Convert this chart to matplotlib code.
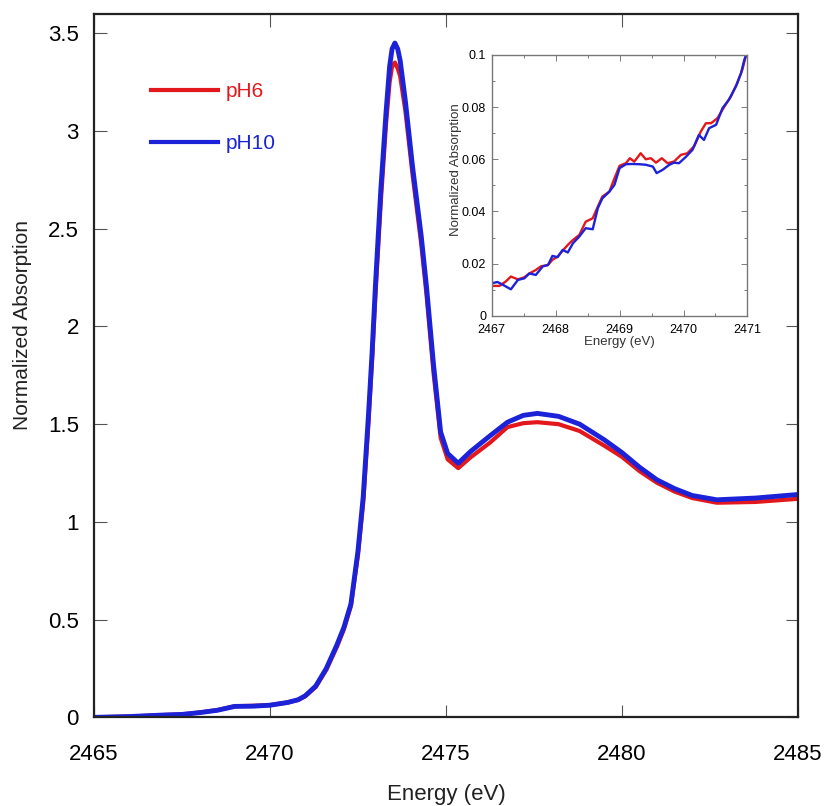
import matplotlib.pyplot as plt
from matplotlib.ticker import FormatStrFormatter, MultipleLocator
from matplotlib.lines import Line2D

plt.rcParams['font.family'] = ['Liberation Sans', 'DejaVu Sans']

RED = '#e3181c'
BLUE = '#1c22d8'

# S K-edge XANES, full range
energy_ph10 = [2465.0, 2466.0, 2467.0, 2467.5, 2468.0, 2468.5, 2469.0, 2469.5, 2470.0,
               2470.5, 2470.8, 2471.0, 2471.3, 2471.6, 2471.9, 2472.1, 2472.3, 2472.5,
               2472.65, 2472.8, 2472.9, 2473.0, 2473.15, 2473.3, 2473.4, 2473.47, 2473.55,
               2473.63, 2473.7, 2473.85, 2474.05, 2474.3, 2474.45, 2474.65, 2474.85,
               2475.05, 2475.35, 2475.7, 2476.25, 2476.75, 2477.2, 2477.6, 2478.2, 2478.8,
               2479.5, 2480.0, 2480.5, 2481.0, 2481.5, 2482.0, 2482.7, 2483.8, 2485.0]
abs_ph10 = [0.000, 0.004, 0.012, 0.015, 0.024, 0.036, 0.056, 0.057, 0.062,
            0.076, 0.090, 0.110, 0.160, 0.250, 0.370, 0.460, 0.580, 0.850,
            1.130, 1.550, 1.860, 2.220, 2.700, 3.100, 3.330, 3.420, 3.450,
            3.420, 3.360, 3.150, 2.820, 2.460, 2.200, 1.800, 1.460,
            1.350, 1.300, 1.360, 1.440, 1.510, 1.545, 1.555, 1.540, 1.500,
            1.420, 1.355, 1.280, 1.215, 1.170, 1.135, 1.113, 1.122, 1.140]

energy_ph6 = energy_ph10
abs_ph6 = [0.000, 0.004, 0.012, 0.015, 0.025, 0.037, 0.057, 0.059, 0.063,
           0.076, 0.089, 0.108, 0.155, 0.243, 0.360, 0.450, 0.570, 0.830,
           1.100, 1.510, 1.820, 2.170, 2.640, 3.040, 3.250, 3.330, 3.350,
           3.320, 3.280, 3.100, 2.780, 2.420, 2.160, 1.760, 1.430,
           1.320, 1.275, 1.330, 1.405, 1.485, 1.505, 1.510, 1.500, 1.465,
           1.390, 1.333, 1.260, 1.200, 1.155, 1.122, 1.098, 1.102, 1.118]

# pre-edge detail for the inset
inset_e_ph10 = [2467.00, 2467.09, 2467.17, 2467.30, 2467.41, 2467.51, 2467.59, 2467.69,
                2467.80, 2467.88, 2467.95, 2468.03, 2468.11, 2468.19, 2468.27, 2468.37,
                2468.47, 2468.58, 2468.66, 2468.73, 2468.84, 2468.92, 2469.00, 2469.10,
                2469.20, 2469.31, 2469.41, 2469.52, 2469.58, 2469.67, 2469.78, 2469.85,
                2469.93, 2470.04, 2470.14, 2470.24, 2470.32, 2470.40, 2470.51, 2470.61,
                2470.71, 2470.82, 2470.90, 2470.95, 2470.98]
inset_a_ph10 = [0.0125, 0.0130, 0.0120, 0.0102, 0.0138, 0.0144, 0.0163, 0.0157,
                0.0190, 0.0195, 0.0230, 0.0225, 0.0253, 0.0243, 0.0278, 0.0304,
                0.0336, 0.0332, 0.0413, 0.0450, 0.0476, 0.0502, 0.0566, 0.0581,
                0.0582, 0.0581, 0.0579, 0.0572, 0.0547, 0.0559, 0.0579, 0.0587,
                0.0585, 0.0610, 0.0636, 0.0693, 0.0674, 0.0719, 0.0732, 0.0796,
                0.0828, 0.0879, 0.0930, 0.0980, 0.1000]

inset_e_ph6 = [2467.00, 2467.12, 2467.22, 2467.30, 2467.41, 2467.51, 2467.59, 2467.69,
               2467.77, 2467.88, 2467.95, 2468.03, 2468.11, 2468.19, 2468.27, 2468.37,
               2468.47, 2468.58, 2468.66, 2468.73, 2468.84, 2468.92, 2469.00, 2469.10,
               2469.16, 2469.23, 2469.33, 2469.41, 2469.49, 2469.57, 2469.66, 2469.75,
               2469.85, 2469.96, 2470.06, 2470.17, 2470.27, 2470.35, 2470.43, 2470.53,
               2470.64, 2470.74, 2470.84, 2470.92, 2470.98]
inset_a_ph6 = [0.0115, 0.0115, 0.0132, 0.0151, 0.0140, 0.0148, 0.0163, 0.0176,
               0.0190, 0.0195, 0.0215, 0.0227, 0.0250, 0.0272, 0.0291, 0.0310,
               0.0361, 0.0374, 0.0419, 0.0457, 0.0476, 0.0527, 0.0575, 0.0585,
               0.0604, 0.0591, 0.0623, 0.0600, 0.0604, 0.0587, 0.0604, 0.0585,
               0.0591, 0.0617, 0.0623, 0.0651, 0.0706, 0.0738, 0.0738, 0.0757,
               0.0802, 0.0840, 0.0892, 0.0943, 0.1000]

fig = plt.figure(figsize=(8.25, 8.06), dpi=100)
ax = fig.add_axes([0.114, 0.110, 0.853, 0.873])

ax.plot(energy_ph6, abs_ph6, color=RED, lw=3.0, solid_capstyle='round', solid_joinstyle='round')
ax.plot(energy_ph10, abs_ph10, color=BLUE, lw=3.5, solid_capstyle='round', solid_joinstyle='round')

ax.set_xlim(2465, 2485)
ax.set_ylim(0, 3.6)
ax.set_xticks([2465, 2470, 2475, 2480, 2485])
ax.set_yticks([0, 0.5, 1, 1.5, 2, 2.5, 3, 3.5])
ax.yaxis.set_major_formatter(FormatStrFormatter('%g'))
ax.tick_params(direction='in', length=9, width=0.8, color='#555555',
               top=True, right=True, labelsize=16)
ax.tick_params(axis='x', pad=19)
ax.tick_params(axis='y', pad=11)
for s in ax.spines.values():
    s.set_linewidth(1.6)
    s.set_color('#222222')
ax.set_xlabel('Energy (eV)', fontsize=16, labelpad=14, color='#222222')
ax.set_ylabel('Normalized Absorption', fontsize=15, color='#222222')
ax.yaxis.set_label_coords(-0.088, 0.558)

handles = [Line2D([], [], color=RED, lw=3.0), Line2D([], [], color=BLUE, lw=3.0)]
leg = ax.legend(handles, ['pH6', 'pH10'], loc='upper left', bbox_to_anchor=(0.081, 0.903),
                frameon=False, fontsize=15, handlelength=3.2, handletextpad=0.4,
                labelspacing=1.6, borderpad=0, borderaxespad=0, labelcolor='linecolor')

# inset: pre-edge region
ins = fig.add_axes([0.596, 0.608, 0.310, 0.324])
ins.plot(inset_e_ph6, inset_a_ph6, color=RED, lw=1.7)
ins.plot(inset_e_ph10, inset_a_ph10, color=BLUE, lw=1.7)
ins.set_xlim(2467, 2471)
ins.set_ylim(0, 0.1)
ins.set_xticks([2467, 2468, 2469, 2470, 2471])
ins.set_yticks([0, 0.02, 0.04, 0.06, 0.08, 0.1])
ins.yaxis.set_major_formatter(FormatStrFormatter('%g'))
ins.xaxis.set_minor_locator(MultipleLocator(0.5))
ins.yaxis.set_minor_locator(MultipleLocator(0.01))
ins.tick_params(which='both', direction='in', top=True, right=True, color='#666666',
                labelsize=9, width=0.6)
ins.tick_params(which='major', length=4)
ins.tick_params(which='minor', length=2.5)
ins.tick_params(axis='x', pad=6)
ins.tick_params(axis='y', pad=4)
for s in ins.spines.values():
    s.set_linewidth(1.0)
    s.set_color('#777777')
ins.set_xlabel('Energy (eV)', fontsize=9.5, labelpad=0, color='#333333')
ins.set_ylabel('Normalized Absorption', fontsize=9.5, color='#333333')
ins.yaxis.set_label_coords(-0.115, 0.56)

fig.savefig('out.png', dpi=100)
